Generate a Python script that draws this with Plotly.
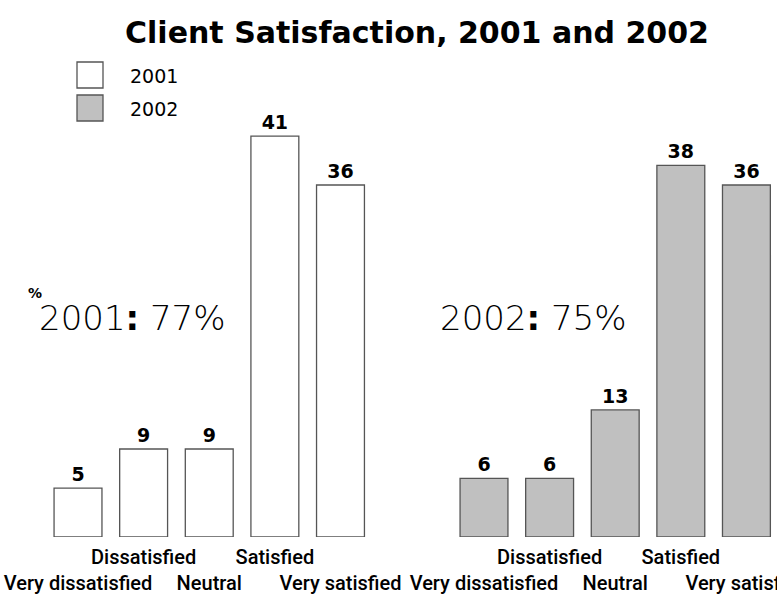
import plotly.graph_objects as go

# Survey data
categories = ["Very dissatisfied", "Dissatisfied", "Neutral", "Satisfied", "Very satisfied"]
values_2001 = [5, 9, 9, 41, 36]
values_2002 = [6, 6, 13, 38, 36]
years = ["2001", "2002"]
totals = ["77%", "75%"]

# Alternate category labels between two rows so they do not collide
tick_text = [("<br>" + c) if i % 2 == 0 else (c + "<br> ") for i, c in enumerate(categories)]
idx = list(range(len(categories)))

W, H = 777, 594


def px(x):
    return x / W


def py(y):
    return 1 - y / H


fig = go.Figure()

bar_line = dict(color="#555555", width=1.3)
val_font = dict(family="DejaVu Sans", size=19, color="black", weight="bold")

fig.add_trace(go.Bar(
    x=idx, y=values_2001, name=years[0], xaxis="x", yaxis="y",
    marker=dict(color="white", line=bar_line),
    text=values_2001, textposition="outside", textfont=val_font,
    cliponaxis=False, showlegend=False,
))
fig.add_trace(go.Bar(
    x=idx, y=values_2002, name=years[1], xaxis="x2", yaxis="y2",
    marker=dict(color="#c0c0c0", line=bar_line),
    text=values_2002, textposition="outside", textfont=val_font,
    cliponaxis=False, showlegend=False,
))

tick_font = dict(family="Roboto", size=20, color="black", weight=500)
xcommon = dict(
    tickmode="array", tickvals=idx, ticktext=tick_text, tickfont=tick_font,
    tickangle=0, automargin=False, ticklabeloverflow="allow", ticklabelstandoff=6,
    showgrid=False, zeroline=False, showline=False, ticks="",
)
ydomain = [py(537), py(97)]
fig.update_layout(
    width=W, height=H,
    margin=dict(l=0, r=0, t=0, b=0, autoexpand=False),
    paper_bgcolor="white", plot_bgcolor="white",
    bargap=0.27,
    xaxis=dict(domain=[px(45.2), px(373.3)], range=[-0.5, 4.5], **xcommon),
    xaxis2=dict(domain=[px(451.2), 1.0], range=[-0.5, 4.466], anchor="y2", **xcommon),
    yaxis=dict(domain=ydomain, range=[0, 45], visible=False),
    yaxis2=dict(domain=ydomain, range=[0, 45], visible=False, anchor="x2"),
    title=dict(
        text="<b>Client Satisfaction, 2001 and 2002</b>",
        x=px(417), xanchor="center", y=py(32), yanchor="middle",
        font=dict(family="DejaVu Sans", size=30, color="black"),
    ),
)

# Legend: swatches with year labels
swatch_colors = ["white", "#c0c0c0"]
for i, (yr, col) in enumerate(zip(years, swatch_colors)):
    top = 62 + i * 33
    fig.add_shape(type="rect", xref="paper", yref="paper",
                  x0=px(77), x1=px(103), y0=py(top + 26), y1=py(top),
                  fillcolor=col, line=dict(color="#555555", width=1.3))
    fig.add_annotation(xref="paper", yref="paper", x=px(128), y=py(top + 14),
                       xanchor="left", yanchor="middle", showarrow=False, text=yr,
                       font=dict(family="DejaVu Sans", size=19, color="black"))

# Y-axis unit
fig.add_annotation(xref="paper", yref="paper", x=px(26), y=py(293),
                   showarrow=False, text="<b>%</b>",
                   font=dict(family="DejaVu Sans", size=14, color="black"))

# Overall satisfaction per year
for yr, tot, cx in zip(years, totals, [132, 533.5]):
    fig.add_annotation(xref="paper", yref="paper", x=px(cx), y=py(318),
                       xanchor="center", yanchor="middle", showarrow=False,
                       text=f"{yr}<b>:</b> {tot}",
                       font=dict(family="DejaVu Sans", size=34, color="black", weight=300))

fig.write_html("out.html")
